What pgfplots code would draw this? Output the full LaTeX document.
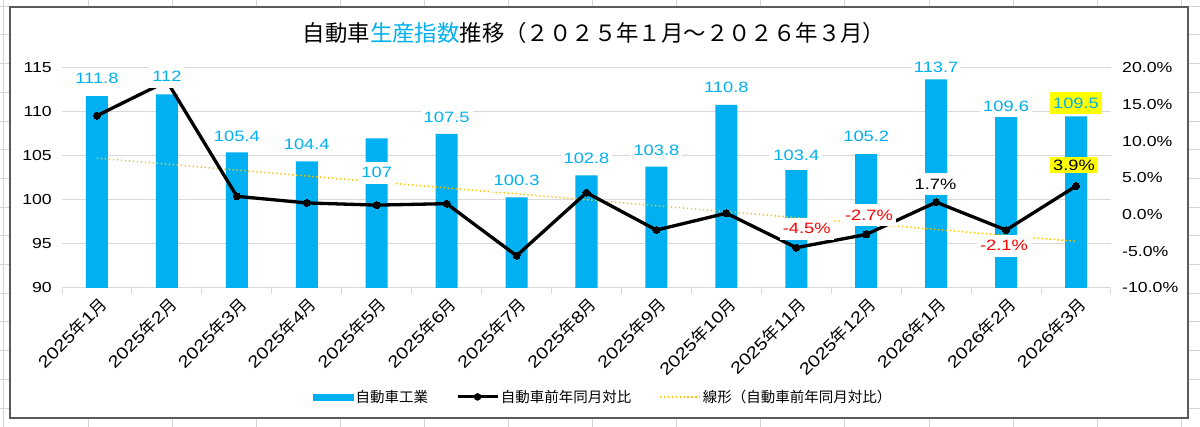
\documentclass[border=0pt]{standalone}
\usepackage{fontspec}
\usepackage{pgfplots}
\pgfplotsset{compat=1.18}
\setmainfont{Liberation Sans}
\newfontfamily\numfont[FakeStretch=1.22]{Liberation Sans}
\newfontfamily\cjk{Noto Sans CJK JP}
\definecolor{xlcyan}{HTML}{00B0F0}
\definecolor{xlgrid}{HTML}{D9D9D9}
\definecolor{xlorange}{HTML}{FFC000}
\definecolor{xlred}{HTML}{FF0000}
\definecolor{xlyellow}{HTML}{FFFF00}
\definecolor{sheetgrid}{HTML}{D4D4D4}
\definecolor{framegray}{HTML}{5A5A5A}
\newcommand{\ym}[2]{{\numfont #1}{\cjk 年}{\numfont #2}{\cjk 月}}

\pgfplotsset{
  base/.style={
    scale only axis, width=1049pt, height=220pt,
    at={(62pt,139pt)}, anchor=south west,
    xmin=-0.5, xmax=14.5,
  },
  lbl/.style={
    draw=none, mark=none, forget plot,
    nodes near coords, point meta=explicit symbolic,
    nodes near coords align=center,
    every node near coord/.append style={
      anchor=center, font=\numfont\fontsize{15}{17}\selectfont,
      text height=11pt, text depth=1pt, inner xsep=3pt, inner ysep=5pt},
  },
}

\begin{document}
\begin{tikzpicture}
\fill[white] (0pt,0pt) rectangle (1200pt,427pt);
\useasboundingbox (0pt,0pt) rectangle (1200pt,427pt);
\foreach \k in {0,...,14} {
  \draw[sheetgrid, line width=1pt] ({(3.9+84.1*\k)*1pt},0pt) -- ++(0pt,427pt);
  \draw[sheetgrid, line width=1pt] (0pt,{(427-6.3-28.7*\k)*1pt}) -- ++(1200pt,0pt);
}
\draw[framegray, line width=1.5pt, fill=white] (10pt,9pt) rectangle (1188pt,420pt);

\node[font=\cjk\fontsize{22.4}{24}\selectfont, anchor=center] at (594pt,394pt)
  {自動車\textcolor{xlcyan}{生産指数}推移（２０２５年１月～２０２６年３月）};

% ---- bars, left axis
\begin{axis}[base,
  ymin=90, ymax=115, ytick={90,95,...,115},
  yticklabels={90,95,100,105,110,115},
  ymajorgrids, grid style={xlgrid, line width=1pt},
  axis line style={draw=none},
  xtick={0,...,14},
  xticklabels={\ym{2025}{1},\ym{2025}{2},\ym{2025}{3},\ym{2025}{4},\ym{2025}{5},\ym{2025}{6},\ym{2025}{7},\ym{2025}{8},\ym{2025}{9},\ym{2025}{10},\ym{2025}{11},\ym{2025}{12},\ym{2026}{1},\ym{2026}{2},\ym{2026}{3}},
  major tick length=0pt,
  minor xtick={-0.5,0.5,...,14.5},
  minor tick length=6pt,
  tick align=outside,
  xtick pos=bottom, ytick pos=left,
  minor tick style={xlgrid, line width=1pt},
  yticklabel style={font=\numfont\fontsize{14.5}{17}\selectfont, anchor=east, inner sep=0pt, xshift=-10pt},
  xticklabel style={font=\fontsize{16.5}{18}\selectfont, xshift=1pt, yshift=-8pt, rotate=45, anchor=north east, inner sep=0pt},
]
\addplot[ybar, bar width=22pt, fill=xlcyan, draw=none] coordinates {
 (0,111.8) (1,112) (2,105.4) (3,104.4) (4,107) (5,107.5) (6,100.3) (7,102.8)
 (8,103.8) (9,110.8) (10,103.4) (11,105.2) (12,113.7) (13,109.6) (14,109.5)};
\end{axis}

% ---- YoY line, right axis
\begin{axis}[base,
  ymin=-10, ymax=20, ytick={-10,-5,...,20},
  yticklabels={-10.0\%,-5.0\%,0.0\%,5.0\%,10.0\%,15.0\%,20.0\%},
  axis y line*=right, axis x line=none,
  axis line style={draw=none},
  major tick length=0pt,
  yticklabel style={font=\numfont\fontsize{14.5}{17}\selectfont, anchor=west, inner sep=0pt, xshift=11pt},
  clip=false,
  legend columns=3,
  legend cell align=left,
  legend style={at={(0.516,-0.495)}, anchor=center, draw=none, fill=none,
    font=\cjk\fontsize{14.5}{16}\selectfont,
    /tikz/every even column/.append style={column sep=26pt}},
]
\addlegendimage{legend image code/.code={\fill[xlcyan] (0pt,-3pt) rectangle (40pt,3pt);}}
\addlegendentry{自動車工業}
\addlegendimage{legend image code/.code={\draw[black,line width=2.8pt] (0pt,0pt)--(40pt,0pt); \fill[black] (20pt,0pt) circle (3.5pt);}}
\addlegendentry{自動車前年同月対比}
\addlegendimage{legend image code/.code={\draw[xlorange,line width=1.3pt,dash pattern=on 1.3pt off 2.6pt] (0pt,0pt)--(40pt,0pt);}}
\addlegendentry{線形（自動車前年同月対比）}

\addplot[xlorange, line width=1.5pt, dash pattern=on 1.3pt off 2.7pt, forget plot] coordinates {(0,7.70) (14,-3.64)};
\addplot[black, line width=3.3pt, line join=round, mark=*, mark size=3.5pt, mark options={fill=black, draw=black, line width=0pt}, forget plot] coordinates {
 (0,13.5) (1,18.2) (2,2.5) (3,1.6) (4,1.3) (5,1.5) (6,-5.6) (7,3.0)
 (8,-2.1) (9,0.2) (10,-4.5) (11,-2.7) (12,1.7) (13,-2.1) (14,3.9)};
\addplot[lbl, every node near coord/.append style={text=xlred, fill=white}] coordinates {
 (10.15,-1.95) [-4.5\%] (11.04,-0.05) [-2.7\%] (12.97,-4.27) [-2.1\%]};
\addplot[lbl, every node near coord/.append style={text=black, fill=white}] coordinates {
 (11.99,4.14) [1.7\%]};
\addplot[lbl, every node near coord/.append style={text=black, fill=xlyellow, inner ysep=2pt}] coordinates {
 (13.97,6.77) [3.9\%]};
\end{axis}

% ---- bar value labels
\begin{axis}[base, ymin=90, ymax=115, hide axis, clip=false]
\addplot[lbl, every node near coord/.append style={text=xlcyan, fill=white}] coordinates {
 (0,113.75)[111.8] (1,113.98)[112] (2,107.27)[105.4] (3,106.36)[104.4] (4,103.07)[107]
 (5,109.32)[107.5] (6,102.16)[100.3] (7,104.66)[102.8] (8,105.57)[103.8] (9,112.73)[110.8]
 (10,105.11)[103.4] (11,107.16)[105.2] (12,115)[113.7] (13,110.68)[109.6]};
\addplot[lbl, every node near coord/.append style={text=xlcyan, fill=xlyellow}] coordinates {
 (14,111.02)[109.5]};
\end{axis}
\end{tikzpicture}
\end{document}
